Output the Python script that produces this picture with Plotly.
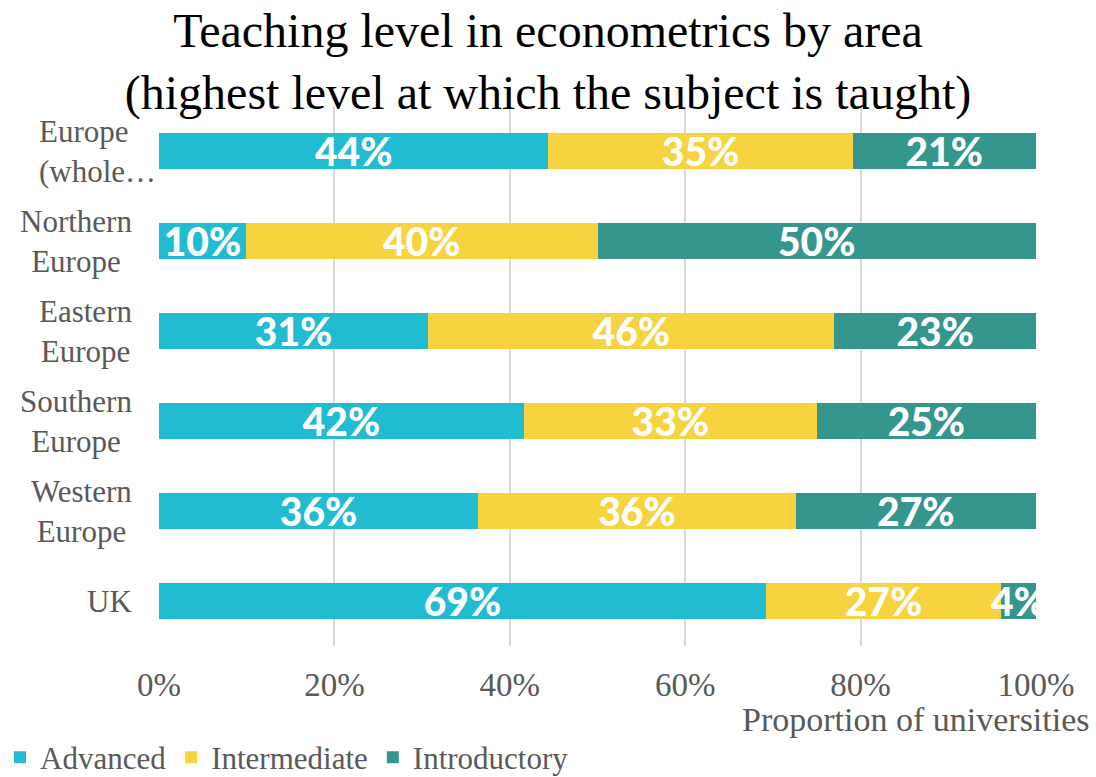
import plotly.graph_objects as go

# Regions, listed bottom-to-top so "Europe (whole…)" sits at the top of the chart
regions = ["UK", "Western<br>Europe", "Southern<br>Europe", "Eastern<br>Europe",
           "Northern<br>Europe", "Europe<br>(whole…"]

# Share of universities by highest econometrics teaching level
advanced = [0.692, 0.364, 0.416, 0.307, 0.099, 0.444]
intermediate = [0.268, 0.362, 0.334, 0.463, 0.401, 0.347]
introductory = [0.040, 0.274, 0.250, 0.230, 0.500, 0.209]

series = [
    ("Advanced", advanced, "#22BCD2"),
    ("Intermediate", intermediate, "#F7D43F"),
    ("Introductory", introductory, "#35968D"),
]

x_ticks = [0, 0.2, 0.4, 0.6, 0.8, 1.0]
x_tick_labels = ["0%", "20%", "40%", "60%", "80%", "100%"]

SERIF = "Liberation Serif"
GREY = "#595959"

fig = go.Figure()
for name, vals, color in series:
    fig.add_trace(go.Bar(
        name=name,
        y=regions,
        x=vals,
        orientation="h",
        marker=dict(color=color, line=dict(width=0)),
        texttemplate="%{x:.0%}",
        textposition="inside",
        insidetextanchor="middle",
        textangle=0,
        constraintext="none",
        textfont=dict(family="Lato", size=39, color="white", weight=900),
        cliponaxis=False,
    ))

# Category labels: multi-line blocks to the left of the bars;
# the truncated top label is left-aligned, the others centred
for r in regions:
    truncated = r.endswith("…")
    fig.add_annotation(
        text=r, xref="paper", yref="y",
        x=-0.001 if truncated else -0.029, y=r,
        xanchor="right", yanchor="middle",
        align="left" if truncated else "center",
        showarrow=False, font=dict(family=SERIF, size=31, color=GREY),
    )

# Axis title, right-aligned under the x axis
fig.add_annotation(
    text="Proportion of universities", xref="paper", yref="paper",
    x=1.064, y=-0.137, xanchor="right", yanchor="middle",
    showarrow=False, font=dict(family=SERIF, size=34, color=GREY),
)

fig.update_layout(
    width=1096, height=777,
    margin=dict(l=159, r=60, t=106, b=131, autoexpand=False),
    paper_bgcolor="white", plot_bgcolor="white",
    barmode="stack", bargap=0.6,
    title=dict(
        text="Teaching level in econometrics by area<br>(highest level at which the subject is taught)",
        x=0.5, xanchor="center", y=0.94, yanchor="top",
        font=dict(family=SERIF, size=48, color="black"),
    ),
    xaxis=dict(
        range=[0, 1], tickvals=x_ticks, ticktext=x_tick_labels,
        showgrid=True, gridcolor="#D9D9D9", gridwidth=2,
        zeroline=False, showline=False, ticks="",
        tickfont=dict(family=SERIF, size=33, color=GREY),
        ticklabelstandoff=16, automargin=False,
    ),
    yaxis=dict(showticklabels=False, showgrid=False, zeroline=False,
               categoryorder="array", categoryarray=regions, automargin=False),
    showlegend=True,
    legend=dict(
        orientation="h", xref="container", yref="container",
        x=-0.008, y=0.025, xanchor="left", yanchor="middle",
        font=dict(family=SERIF, size=31, color=GREY),
        itemwidth=30, traceorder="normal",
    ),
)

fig.write_html("out.html")
